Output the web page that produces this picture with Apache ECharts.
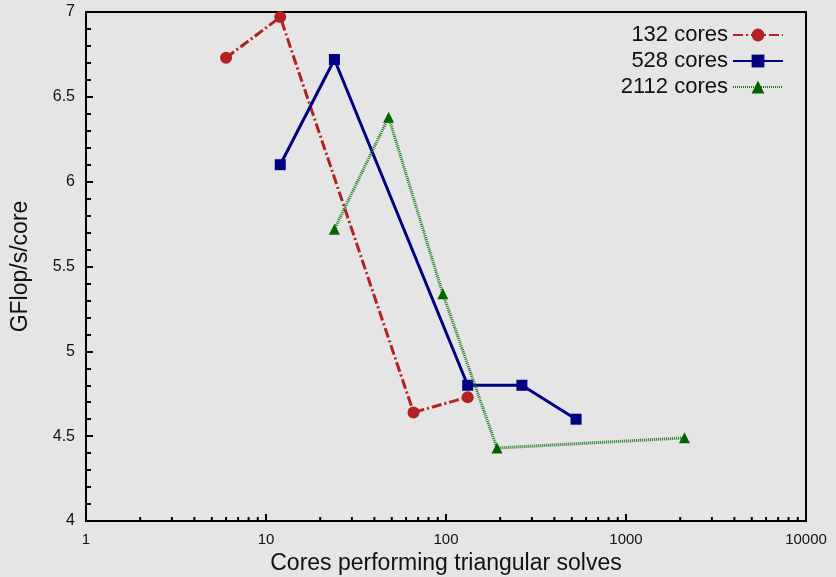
<!DOCTYPE html>
<html>
<head>
<meta charset="utf-8">
<script src="https://cdn.jsdelivr.net/npm/echarts@6/dist/echarts.min.js"></script>
<style>
  html, body { margin: 0; padding: 0; background: #e5e5e5; }
  #chart { width: 836px; height: 577px; }
</style>
</head>
<body>
<div id="chart"></div>
<script>
// Per-core throughput of the triangular solves, for three total core counts
const seriesNames = ['132 cores', '528 cores', '2112 cores'];

const coresA = [6, 12, 66, 132];
const gflopsA = [6.73, 6.97, 4.64, 4.73];

const coresB = [12, 24, 132, 264, 528];
const gflopsB = [6.10, 6.72, 4.80, 4.80, 4.60];

const coresC = [24, 48, 96, 192, 2112];
const gflopsC = [5.72, 6.38, 5.34, 4.43, 4.49];

const xTickLabels = ['1', '10', '100', '1000', '10000'];

const FONT = '"Liberation Sans", Arial, Helvetica, sans-serif';

// minor tick positions 2..9 within each decade of the log axis
const minorX = [];
for (let d = 1; d < 10000; d *= 10) {
  for (let m = 2; m <= 9; m++) minorX.push([m * d, 4]);
}

function pairs(xs, ys) { return xs.map((x, i) => [x, ys[i]]); }

const chart = echarts.init(document.getElementById('chart'), null, { renderer: 'canvas' });

chart.setOption({
  backgroundColor: '#e5e5e5',
  animation: false,
  grid: {
    left: 86, right: 30, top: 12, bottom: 56,
    outerBoundsMode: 'none',
    show: true, borderColor: '#000', borderWidth: 2, backgroundColor: 'transparent'
  },
  legend: {
    orient: 'vertical',
    right: 47,
    top: 19,
    align: 'right',
    itemWidth: 50,
    itemHeight: 16,
    itemGap: 4,
    textStyle: { fontFamily: FONT, fontSize: 22, color: '#111' },
    data: seriesNames
  },
  xAxis: {
    type: 'log',
    logBase: 10,
    min: 1,
    max: 10000,
    name: 'Cores performing triangular solves',
    nameLocation: 'middle',
    nameGap: 31,
    nameTextStyle: { fontFamily: FONT, fontSize: 23, color: '#111' },
    axisLine: { lineStyle: { color: '#000', width: 2 } },
    axisTick: { inside: true, length: 7, lineStyle: { color: '#000', width: 2 } },
    axisLabel: {
      fontFamily: FONT, fontSize: 15, color: '#111', margin: 11,
      formatter: v => xTickLabels[Math.round(Math.log10(v))] ?? ''
    },
    splitLine: { show: false }
  },
  yAxis: {
    type: 'value',
    min: 4,
    max: 7,
    interval: 0.5,
    name: 'GFlop/s/core',
    nameLocation: 'middle',
    nameGap: 54,
    nameRotate: 90,
    nameTextStyle: { fontFamily: FONT, fontSize: 23, color: '#111' },
    axisLine: { show: true, lineStyle: { color: '#000', width: 2 } },
    axisTick: { inside: true, length: 7, lineStyle: { color: '#000', width: 2 } },
    minorTick: { show: true, splitNumber: 5, length: 5, lineStyle: { color: '#000', width: 2 } },
    axisLabel: { fontFamily: FONT, fontSize: 16, color: '#111', margin: 11 },
    splitLine: { show: false }
  },
  series: [
    {
      name: seriesNames[0],
      type: 'line',
      data: pairs(coresA, gflopsA),
      symbol: 'circle',
      symbolSize: 12,
      itemStyle: { color: '#b22222' },
      lineStyle: { color: '#b22222', width: 3, type: [10, 3, 2, 3] },
      z: 3
    },
    {
      name: seriesNames[1],
      type: 'line',
      data: pairs(coresB, gflopsB),
      symbol: 'rect',
      symbolSize: 11,
      itemStyle: { color: '#000080' },
      lineStyle: { color: '#000080', width: 3, type: 'solid' },
      z: 4
    },
    {
      name: seriesNames[2],
      type: 'line',
      data: pairs(coresC, gflopsC),
      symbol: 'triangle',
      symbolSize: 11,
      itemStyle: { color: '#006400' },
      lineStyle: { color: '#1e7d1e', width: 3, type: [1, 1] },
      z: 5
    },
    {
      // minor ticks of the logarithmic x axis
      type: 'custom',
      silent: true,
      data: minorX,
      clip: false,
      renderItem: (params, api) => {
        const p = api.coord([api.value(0), api.value(1)]);
        return {
          type: 'line',
          shape: { x1: p[0], y1: p[1], x2: p[0], y2: p[1] - 4 },
          style: { stroke: '#000', lineWidth: 2 }
        };
      },
      z: 1
    }
  ]
});
</script>
</body>
</html>
